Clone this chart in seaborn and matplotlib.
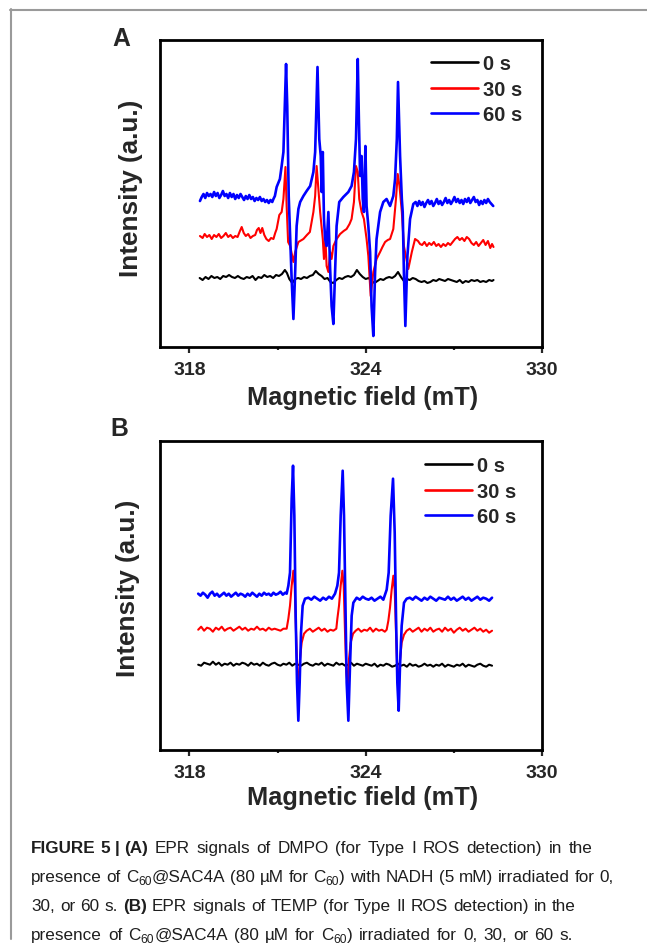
import numpy as np
import pandas as pd
import matplotlib
matplotlib.use("Agg")
import matplotlib.pyplot as plt
from matplotlib.lines import Line2D
import seaborn as sns

# ---------------- data ----------------
time_labels = ["0 s", "30 s", "60 s"]
line_colors = ["#000000", "#ff0000", "#0000ff"]

# Panel A (DMPO) -- field in mT, intensity in arbitrary units
field_A_0 = [318.35, 318.45, 318.55, 318.65, 318.75, 318.85, 318.95, 319.05, 319.15, 319.25,
             319.35, 319.45, 319.55, 319.65, 319.75, 319.85, 319.95, 320.05, 320.15, 320.25,
             320.35, 320.45, 320.55, 320.65, 320.75, 320.85, 320.95, 321.05, 321.15, 321.25,
             321.32, 321.4, 321.5, 321.6, 321.7, 321.8, 321.9, 322.0, 322.1, 322.2,
             322.3, 322.4, 322.5, 322.6, 322.7, 322.8, 322.9, 323.0, 323.1, 323.2,
             323.3, 323.4, 323.5, 323.6, 323.7, 323.8, 323.9, 324.0, 324.1, 324.2,
             324.3, 324.4, 324.5, 324.6, 324.7, 324.8, 324.9, 325.0, 325.1, 325.2,
             325.3, 325.4, 325.5, 325.6, 325.7, 325.8, 325.9, 326.0, 326.1, 326.2,
             326.3, 326.4, 326.5, 326.6, 326.7, 326.8, 326.9, 327.0, 327.1, 327.2,
             327.3, 327.4, 327.5, 327.6, 327.7, 327.8, 327.9, 328.0, 328.1, 328.2,
             328.3, 328.35]
int_A_0 = [71, 69, 72, 70, 73, 71, 72, 70, 73, 72,
           74, 72, 71, 73, 71, 70, 72, 71, 73, 69,
           72, 71, 74, 72, 73, 71, 74, 73, 75, 79,
           76, 70, 66, 70, 71, 70, 72, 71, 73, 74,
           78, 75, 73, 70, 71, 67, 66, 69, 71, 70,
           72, 73, 72, 74, 79, 75, 72, 70, 71, 68,
           66, 68, 70, 69, 71, 72, 71, 73, 77, 72,
           68, 70, 69, 71, 70, 68, 67, 68, 66, 67,
           69, 68, 70, 69, 68, 70, 69, 68, 67, 69,
           66, 68, 67, 69, 68, 69, 67, 68, 67, 69,
           68, 69]

field_A_30 = [318.36, 318.45, 318.52, 318.6, 318.68, 318.76, 318.84, 318.92, 319.0, 319.08,
              319.16, 319.24, 319.32, 319.4, 319.48, 319.56, 319.64, 319.72, 319.78, 319.85,
              319.92, 320.0, 320.08, 320.16, 320.24, 320.3, 320.36, 320.42, 320.48, 320.55,
              320.62, 320.7, 320.78, 320.86, 320.92, 320.97, 321.06, 321.14, 321.2, 321.27,
              321.31, 321.36, 321.43, 321.54, 321.6, 321.71, 321.88, 322.0, 322.1, 322.22,
              322.28, 322.33, 322.39, 322.45, 322.54, 322.58, 322.63, 322.67, 322.73, 322.79,
              322.84, 322.9, 323.01, 323.13, 323.25, 323.35, 323.45, 323.52, 323.6, 323.67,
              323.73, 323.78, 323.86, 323.94, 324.03, 324.09, 324.17, 324.26, 324.37, 324.49,
              324.57, 324.66, 324.75, 324.83, 324.94, 325.03, 325.09, 325.15, 325.23, 325.3,
              325.45, 325.57, 325.68, 325.78, 325.85, 325.92, 326.0, 326.08, 326.16, 326.24,
              326.32, 326.4, 326.48, 326.56, 326.64, 326.72, 326.8, 326.88, 326.96, 327.04,
              327.12, 327.2, 327.28, 327.36, 327.44, 327.52, 327.6, 327.68, 327.76, 327.84,
              327.92, 328.0, 328.08, 328.16, 328.24, 328.3, 328.35]
int_A_30 = [113, 111, 115, 112, 114, 110, 114, 112, 115, 111,
            113, 116, 112, 114, 111, 113, 112, 118, 122, 116,
            113, 115, 111, 113, 114, 119, 121, 116, 121, 114,
            110, 108, 111, 110, 116, 120, 134, 137, 150, 182,
            143, 107, 103, 87, 97, 107, 110, 114, 117, 137,
            153, 183, 160, 137, 110, 90, 110, 83, 77, 97,
            90, 103, 110, 115, 118, 120, 125, 130, 147, 183,
            177, 150, 137, 130, 110, 93, 53, 77, 90, 97,
            102, 107, 109, 110, 120, 150, 175, 163, 137, 103,
            80, 97, 110, 108, 105, 104, 107, 103, 106, 104,
            107, 103, 105, 102, 105, 103, 106, 104, 107, 110,
            112, 109, 111, 108, 112, 110, 106, 104, 107, 103,
            106, 109, 104, 108, 101, 105, 102]

field_A_60 = [318.36, 318.42, 318.48, 318.54, 318.6, 318.66, 318.72, 318.78, 318.84, 318.9,
              318.96, 319.02, 319.08, 319.14, 319.2, 319.26, 319.32, 319.38, 319.44, 319.5,
              319.56, 319.62, 319.68, 319.74, 319.8, 319.86, 319.92, 319.98, 320.04, 320.1,
              320.16, 320.22, 320.28, 320.34, 320.4, 320.46, 320.52, 320.58, 320.64, 320.7,
              320.76, 320.82, 320.86, 320.91, 320.97, 321.08, 321.14, 321.2, 321.29, 321.33,
              321.38, 321.43, 321.48, 321.54, 321.6, 321.65, 321.71, 321.77, 321.88, 321.99,
              322.11, 322.22, 322.28, 322.36, 322.42, 322.47, 322.5, 322.54, 322.58, 322.62,
              322.67, 322.73, 322.79, 322.84, 322.9, 322.96, 323.01, 323.1, 323.24, 323.41,
              323.52, 323.6, 323.67, 323.73, 323.77, 323.81, 323.86, 323.9, 323.94, 323.99,
              324.03, 324.09, 324.15, 324.2, 324.26, 324.32, 324.37, 324.49, 324.6, 324.71,
              324.83, 324.94, 325.0, 325.06, 325.1, 325.17, 325.23, 325.26, 325.3, 325.35,
              325.42, 325.51, 325.62, 325.7, 325.76, 325.82, 325.88, 325.94, 326.0, 326.06,
              326.12, 326.18, 326.24, 326.3, 326.36, 326.42, 326.48, 326.54, 326.6, 326.66,
              326.72, 326.78, 326.84, 326.9, 326.96, 327.02, 327.08, 327.14, 327.2, 327.26,
              327.32, 327.38, 327.44, 327.5, 327.56, 327.62, 327.68, 327.74, 327.8, 327.86,
              327.92, 327.98, 328.04, 328.1, 328.16, 328.22, 328.28, 328.34]
int_A_60 = [148, 152, 155, 151, 156, 153, 155, 152, 157, 153,
            156, 151, 154, 158, 153, 155, 151, 156, 152, 155,
            150, 154, 151, 155, 152, 149, 153, 150, 154, 150,
            152, 148, 151, 149, 152, 148, 150, 147, 149, 146,
            149, 147, 150, 153, 162, 170, 183, 197, 285, 243,
            153, 110, 70, 30, 77, 123, 140, 147, 153, 158,
            163, 177, 197, 282, 210, 193, 157, 197, 130, 110,
            103, 137, 80, 43, 25, 77, 123, 147, 152, 157,
            163, 177, 210, 290, 227, 173, 193, 150, 137, 203,
            143, 123, 97, 43, 13, 77, 110, 137, 147, 150,
            143, 153, 170, 210, 267, 193, 150, 137, 77, 23,
            93, 130, 145, 147, 143, 148, 144, 147, 142, 146,
            149, 145, 148, 143, 146, 150, 145, 148, 144, 147,
            151, 146, 149, 145, 148, 152, 147, 150, 146, 149,
            145, 150, 147, 151, 146, 149, 152, 147, 149, 144,
            148, 145, 149, 146, 150, 147, 145, 143]

# Panel B (TEMP)
field_B_0 = [318.3, 318.4, 318.5, 318.6, 318.7, 318.8, 318.9, 319.0, 319.1, 319.2,
             319.3, 319.4, 319.5, 319.6, 319.7, 319.8, 319.9, 320.0, 320.1, 320.2,
             320.3, 320.4, 320.5, 320.6, 320.7, 320.8, 320.9, 321.0, 321.1, 321.2,
             321.3, 321.4, 321.5, 321.6, 321.7, 321.8, 321.9, 322.0, 322.1, 322.2,
             322.3, 322.4, 322.5, 322.6, 322.7, 322.8, 322.9, 323.0, 323.1, 323.2,
             323.3, 323.4, 323.5, 323.6, 323.7, 323.8, 323.9, 324.0, 324.1, 324.2,
             324.3, 324.4, 324.5, 324.6, 324.7, 324.8, 324.9, 325.0, 325.1, 325.2,
             325.3, 325.4, 325.5, 325.6, 325.7, 325.8, 325.9, 326.0, 326.1, 326.2,
             326.3, 326.4, 326.5, 326.6, 326.7, 326.8, 326.9, 327.0, 327.1, 327.2,
             327.3, 327.4, 327.5, 327.6, 327.7, 327.8, 327.9, 328.0, 328.1, 328.2,
             328.3]
int_B_0 = [85, 84, 87, 86, 85, 88, 85, 87, 84, 86,
           85, 87, 84, 86, 85, 87, 86, 84, 87, 85,
           86, 84, 87, 85, 84, 86, 87, 85, 84, 86,
           85, 87, 84, 86, 85, 84, 86, 87, 85, 84,
           86, 85, 87, 84, 86, 85, 84, 87, 85, 86,
           84, 85, 87, 84, 86, 85, 84, 86, 85, 84,
           86, 83, 85, 84, 86, 85, 83, 84, 86, 84,
           85, 83, 86, 84, 85, 83, 84, 86, 84, 85,
           83, 85, 84, 86, 83, 85, 84, 83, 85, 84,
           86, 83, 85, 84, 83, 85, 86, 84, 83, 85,
           84]

field_B_30 = [318.3, 318.4, 318.5, 318.6, 318.7, 318.8, 318.9, 319.0, 319.1, 319.2,
              319.3, 319.4, 319.5, 319.6, 319.7, 319.8, 319.9, 320.0, 320.1, 320.2,
              320.3, 320.4, 320.5, 320.6, 320.7, 320.8, 320.9, 321.0, 321.1, 321.2,
              321.31, 321.368, 321.424, 321.481, 321.538, 321.584, 321.629, 321.674, 321.72, 321.765,
              321.821, 321.901, 321.992, 322.1, 322.2, 322.3, 322.4, 322.5, 322.6, 322.7,
              322.8, 322.9, 323.0, 323.036, 323.092, 323.149, 323.206, 323.252, 323.297, 323.342,
              323.388, 323.433, 323.489, 323.569, 323.66, 323.75, 323.85, 323.95, 324.05, 324.15,
              324.25, 324.35, 324.45, 324.55, 324.65, 324.714, 324.771, 324.827, 324.884, 324.941,
              324.987, 325.032, 325.077, 325.123, 325.168, 325.224, 325.304, 325.395, 325.5, 325.6,
              325.7, 325.8, 325.9, 326.0, 326.1, 326.2, 326.3, 326.4, 326.5, 326.6,
              326.7, 326.8, 326.9, 327.0, 327.1, 327.2, 327.3, 327.4, 327.5, 327.6,
              327.7, 327.8, 327.9, 328.0, 328.1, 328.2, 328.3]
int_B_30 = [120, 123, 119, 122, 121, 118, 122, 120, 123, 119,
            121, 122, 119, 121, 123, 120, 122, 119, 121, 120,
            123, 120, 121, 119, 122, 120, 121, 120, 119, 121,
            121, 131, 144, 164, 179, 164, 117, 77, 64, 91,
            107, 116, 119, 121, 118, 120, 122, 119, 121, 118,
            120, 119, 121, 131, 144, 164, 179, 164, 117, 77,
            64, 91, 107, 116, 119, 121, 118, 120, 119, 122,
            118, 121, 119, 120, 118, 120, 129, 142, 160, 174,
            160, 117, 77, 64, 90, 107, 115, 119, 121, 118,
            120, 122, 118, 121, 119, 122, 118, 120, 121, 118,
            122, 119, 121, 117, 120, 122, 119, 121, 118, 120,
            122, 119, 121, 118, 120, 117, 119]

field_B_60 = [318.3, 318.38, 318.46, 318.54, 318.62, 318.7, 318.78, 318.86, 318.94, 319.02,
              319.1, 319.18, 319.26, 319.34, 319.42, 319.5, 319.58, 319.66, 319.74, 319.82,
              319.9, 319.98, 320.06, 320.14, 320.22, 320.3, 320.38, 320.46, 320.54, 320.62,
              320.7, 320.78, 320.86, 320.94, 321.02, 321.1, 321.18, 321.26, 321.311, 321.368,
              321.424, 321.481, 321.527, 321.572, 321.617, 321.663, 321.708, 321.753, 321.799, 321.855,
              321.935, 322.048, 322.15, 322.25, 322.35, 322.45, 322.55, 322.65, 322.75, 322.85,
              322.956, 323.035, 323.092, 323.149, 323.217, 323.262, 323.308, 323.353, 323.41, 323.466,
              323.523, 323.58, 323.693, 323.8, 323.9, 324.0, 324.1, 324.2, 324.3, 324.4,
              324.5, 324.6, 324.714, 324.782, 324.85, 324.93, 324.987, 325.032, 325.077, 325.123,
              325.168, 325.225, 325.304, 325.395, 325.5, 325.6, 325.7, 325.8, 325.9, 326.0,
              326.1, 326.2, 326.3, 326.4, 326.5, 326.6, 326.7, 326.8, 326.9, 327.0,
              327.1, 327.2, 327.3, 327.4, 327.5, 327.6, 327.7, 327.8, 327.9, 328.0,
              328.1, 328.2, 328.3]
int_B_60 = [156, 154, 157, 155, 152, 156, 158, 154, 156, 153,
            155, 157, 154, 156, 153, 155, 157, 154, 156, 155,
            153, 156, 154, 157, 155, 153, 156, 154, 157, 155,
            156, 154, 157, 155, 156, 158, 155, 157, 156, 164,
            177, 251, 284, 234, 134, 67, 29, 67, 117, 144,
            151, 152, 150, 153, 151, 149, 152, 150, 153, 151,
            156, 164, 177, 234, 279, 234, 151, 67, 29, 84,
            134, 147, 152, 150, 153, 151, 150, 152, 149, 151,
            153, 150, 160, 177, 234, 271, 217, 134, 67, 39,
            84, 124, 147, 151, 152, 150, 153, 151, 149, 152,
            150, 153, 151, 149, 152, 151, 150, 153, 150, 152,
            149, 151, 153, 150, 152, 149, 151, 153, 150, 152,
            151, 149, 152]

x_major_ticks = [318, 324, 330]
x_minor_ticks = [321, 327]

caption_lines = [
    [("FIGURE 5 | (A)", "bold", 1.0, 0), (" EPR signals of DMPO (for Type I ROS detection) in the", "normal", 1.0, 0)],
    [("presence of C", "normal", 1.0, 0), ("60", "normal", 0.7, 3), ("@SAC4A (80 \u00b5M for C", "normal", 1.0, 0),
     ("60", "normal", 0.7, 3), (") with NADH (5 mM) irradiated for 0,", "normal", 1.0, 0)],
    [("30, or 60 s. ", "normal", 1.0, 0), ("(B)", "bold", 1.0, 0), (" EPR signals of TEMP (for Type II ROS detection) in the", "normal", 1.0, 0)],
    [("presence of C", "normal", 1.0, 0), ("60", "normal", 0.7, 3), ("@SAC4A (80 \u00b5M for C", "normal", 1.0, 0),
     ("60", "normal", 0.7, 3), (") irradiated for 0, 30, or 60 s.", "normal", 1.0, 0)],
]
caption_line_ends = [599, 613, 577, 578]

# ---------------- style ----------------
sns.set_theme(style="ticks")
plt.rcParams["font.family"] = ["Liberation Sans", "DejaVu Sans"]

W, H = 647, 945
fig = plt.figure(figsize=(W / 100, H / 100), dpi=100)
fig.patch.set_facecolor("white")


def fx(x):
    return x / W


def fy(y):
    return 1 - y / H


def make_panel(rect, fields, ints, ylim, legend_anchor):
    ax = fig.add_axes(rect)
    frames = []
    for f, v, lab in zip(fields, ints, time_labels):
        frames.append(pd.DataFrame({"field": f, "intensity": v, "time": lab}))
    df = pd.concat(frames, ignore_index=True)
    sns.lineplot(data=df, x="field", y="intensity", hue="time", hue_order=time_labels,
                 palette=line_colors, sort=False, estimator=None, legend=False, ax=ax)
    for ln, lw in zip(ax.lines, [1.5, 1.5, 1.9]):
        ln.set_linewidth(lw)
    ax.set_xlim(317, 330)
    ax.set_ylim(*ylim)
    ax.set_xticks(x_major_ticks)
    ax.set_xticks(x_minor_ticks, minor=True)
    ax.set_xticklabels([str(t) for t in x_major_ticks])
    ax.set_yticks([])
    ax.set_xlabel("")
    ax.set_ylabel("")
    for s in ax.spines.values():
        s.set_linewidth(2.0)
        s.set_color("black")
    ax.tick_params(axis="x", which="major", direction="out", length=4, width=1.6,
                   labelsize=14, pad=6.5, bottom=True, top=False)
    ax.tick_params(axis="x", which="minor", direction="out", length=2.5, width=1.6,
                   bottom=True, top=False)
    for lbl in ax.get_xticklabels():
        lbl.set_fontweight("bold")
    handles = [Line2D([], [], color=c, lw=1.9) for c in line_colors]
    ax.legend(handles, time_labels, loc="upper left", bbox_to_anchor=legend_anchor,
              frameon=False, prop={"weight": "bold", "size": 14.5}, handlelength=2.35,
              handletextpad=0.25, labelspacing=0.33, borderpad=0, borderaxespad=0)
    return ax


axA = make_panel([fx(160), fy(347.7), 382 / W, 307 / H],
                 [field_A_0, field_A_30, field_A_60], [int_A_0, int_A_30, int_A_60],
                 (2.3, 309.3), (0.7086, 0.953))
axB = make_panel([fx(160), fy(750.7), 382 / W, 308.4 / H],
                 [field_B_0, field_B_30, field_B_60], [int_B_0, int_B_30, int_B_60],
                 (0, 308.4), (0.6937, 0.952))

# axis titles and panel letters
fig.text(fx(362.5), fy(405), "Magnetic field (mT)", ha="center", va="baseline",
         fontsize=18.3, fontweight="bold")
fig.text(fx(362.5), fy(805), "Magnetic field (mT)", ha="center", va="baseline",
         fontsize=18.3, fontweight="bold")
fig.text(fx(130.8), fy(188.5), "Intensity (a.u.)", ha="center", va="center", rotation=90,
         fontsize=18.8, fontweight="bold")
fig.text(fx(128.3), fy(588.3), "Intensity (a.u.)", ha="center", va="center", rotation=90,
         fontsize=18.8, fontweight="bold")
fig.text(fx(121.3), fy(46), "A", ha="center", va="baseline", fontsize=17.8, fontweight="bold")
fig.text(fx(119.2), fy(436), "B", ha="center", va="baseline", fontsize=17.8, fontweight="bold")

# outer frame
frame_kw = dict(color="#9a9a9a", lw=1.5, transform=fig.transFigure)
fig.add_artist(Line2D([fx(10), fx(647)], [fy(10.5), fy(10.5)], **frame_kw))
fig.add_artist(Line2D([fx(10.5), fx(10.5)], [fy(10), fy(940)], **frame_kw))

# caption
cap_family = ["Liberation Sans", "DejaVu Sans"]
renderer = fig.canvas.get_renderer()


def text_width(s, size, weight):
    t1 = fig.text(0, 0, "I" + s + "I", fontsize=size, fontweight=weight, family=cap_family)
    t2 = fig.text(0, 0, "II", fontsize=size, fontweight=weight, family=cap_family)
    w = t1.get_window_extent(renderer).width - t2.get_window_extent(renderer).width
    t1.remove()
    t2.remove()
    return w


def line_width(segs, size):
    return sum(text_width(s, size * sc, wt) for s, wt, sc, dy in segs)


ref = 12.0
cap_size = ref * 580.0 / line_width(caption_lines[1], ref)

baselines = [853, 882, 911, 940]
for segs, yb, xend in zip(caption_lines, baselines, caption_line_ends):
    natural = line_width(segs, cap_size)
    nsp = sum(s.strip().count(" ") + (1 if s.startswith(" ") else 0) + (1 if s.endswith(" ") else 0)
              for s, wt, sc, dy in segs if wt == "normal")
    extra = max(0.0, 0.75 * (xend - 31.0 - natural) / max(nsp, 1))
    x = 31.0
    for s, wt, sc, dy in segs:
        sz = cap_size * sc
        parts = s.split(" ")
        spw = text_width(" ", sz, wt)
        add = extra if wt == "normal" else 0.0
        for k, p in enumerate(parts):
            if p:
                fig.text(fx(x), fy(yb + dy), p, fontsize=sz, fontweight=wt,
                         family=cap_family, ha="left", va="baseline", color="#1e1e1e")
                x += text_width(p, sz, wt)
            if k < len(parts) - 1:
                x += spw + add

fig.savefig("out.png", dpi=100)
